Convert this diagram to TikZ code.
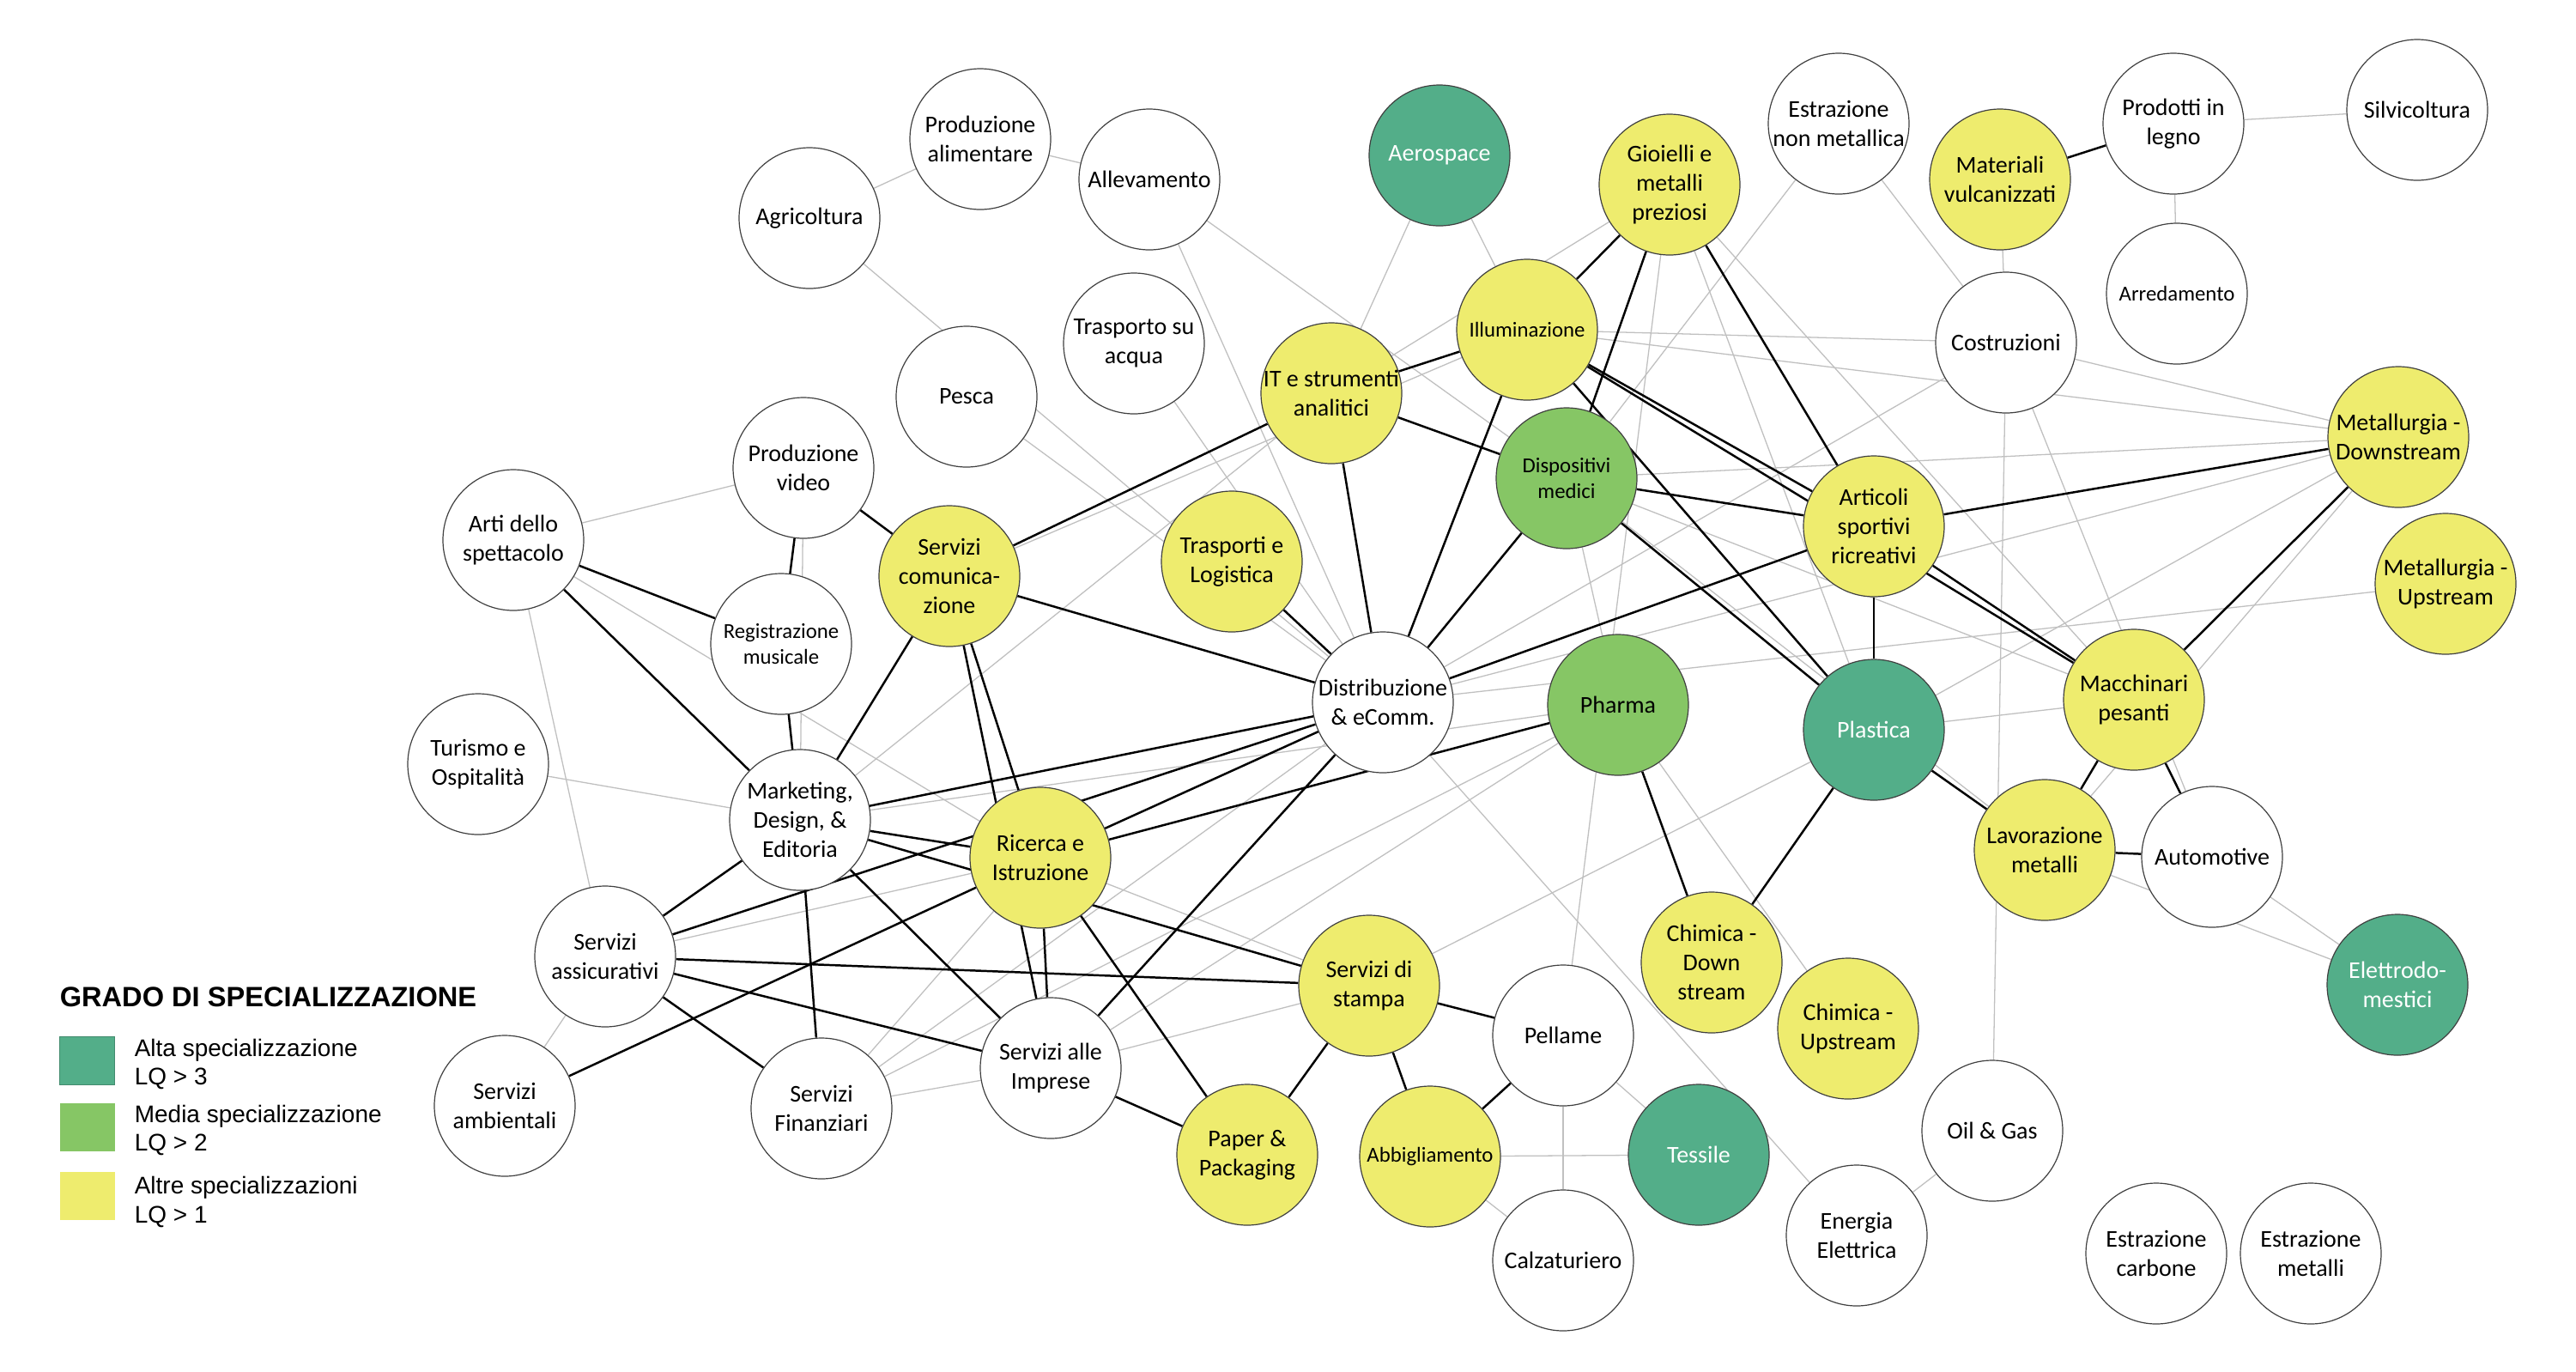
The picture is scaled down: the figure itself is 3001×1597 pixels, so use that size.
\documentclass[tikz,border=0pt]{standalone}
\usepackage{fontspec}
\setmainfont{Carlito}
\newfontfamily\legendfont{Liberation Sans}
\usetikzlibrary{backgrounds}
\definecolor{hiG}{RGB}{83,174,137}
\definecolor{midG}{RGB}{134,198,101}
\definecolor{loY}{RGB}{238,236,110}
\definecolor{weakE}{RGB}{192,192,192}
\tikzset{
  sector/.style={circle, draw=black!75, line width=0.3pt, fill=white, minimum size=41pt, inner sep=-12pt, align=center, font=\fontsize{7}{8.5}\selectfont},
  smalltxt/.style={font=\fontsize{6.2}{7.6}\selectfont},
  hi/.style={fill=hiG, text=white},
  mid/.style={fill=midG},
  lo/.style={fill=loY},
  strong/.style={line width=0.62pt, black},
  weak/.style={line width=0.32pt, weakE},
  legtext/.style={anchor=base west, inner sep=0pt, font=\legendfont\fontsize{7}{8.4}\selectfont},
  legbox/.style={anchor=north west, inner sep=0pt, minimum width=16pt, minimum height=14pt}
}
\begin{document}
\begin{tikzpicture}[x=0.25pt, y=-0.25pt]
\useasboundingbox (0,0) rectangle (3001,1597);
% ---------------- nodes ----------------
\node[sector] (agri) at (943,254) {Agricoltura};
\node[sector] (prodalim) at (1142,162) {Produzione\\alimentare};
\node[sector] (allev) at (1339,209) {Allevamento};
\node[sector,hi] (aero) at (1677,181) {Aerospace};
\node[sector,lo] (gioie) at (1945,215) {Gioielli e\\metalli\\preziosi};
\node[sector] (estrnm) at (2142,144) {Estrazione\\non metallica};
\node[sector,lo] (matvulc) at (2330,209) {Materiali\\vulcanizzati};
\node[sector] (legno) at (2532,144) {Prodotti in\\legno};
\node[sector] (silvi) at (2816,128) {Silvicoltura};
\node[sector,smalltxt] (arred) at (2536,342) {Arredamento};
\node[sector] (costr) at (2337,399) {Costruzioni};
\node[sector] (trasacq) at (1321,400) {Trasporto su\\acqua};
\node[sector] (pesca) at (1126,462) {Pesca};
\node[sector,lo] (it) at (1551,458) {IT e strumenti\\analitici};
\node[sector,lo,smalltxt] (illum) at (1779,384) {Illuminazione};
\node[sector,mid,smalltxt] (disp) at (1825,557) {Dispositivi\\medici};
\node[sector,lo] (artic) at (2183,613) {Articoli\\sportivi\\ricreativi};
\node[sector,lo] (metdown) at (2794,509) {Metallurgia -\\Downstream};
\node[sector,lo] (metup) at (2849,680) {Metallurgia -\\Upstream};
\node[sector] (prodvid) at (936,545) {Produzione\\video};
\node[sector] (arti) at (598,629) {Arti dello\\spettacolo};
\node[sector,smalltxt] (regmus) at (910,750) {Registrazione\\musicale};
\node[sector,lo] (servcom) at (1106,671) {Servizi\\comunica-\\zione};
\node[sector,lo] (trasplog) at (1435,654) {Trasporti e\\Logistica};
\node[sector] (distr) at (1611,818) {Distribuzione\\\& eComm.};
\node[sector,mid] (pharma) at (1885,821) {Pharma};
\node[sector,hi] (plast) at (2183,850) {Plastica};
\node[sector,lo] (macch) at (2486,815) {Macchinari\\pesanti};
\node[sector] (turismo) at (557,890) {Turismo e\\Ospitalità};
\node[sector] (mkt) at (932,955) {Marketing,\\Design, \&\\Editoria};
\node[sector,lo] (ricerca) at (1212,999) {Ricerca e\\Istruzione};
\node[sector,lo] (lavmet) at (2382,990) {Lavorazione\\metalli};
\node[sector] (auto) at (2577,998) {Automotive};
\node[sector] (assic) at (705,1114) {Servizi\\assicurativi};
\node[sector,lo] (stampa) at (1595,1148) {Servizi di\\stampa};
\node[sector,lo] (chimdown) at (1994,1121) {Chimica -\\Down\\stream};
\node[sector,hi] (elettro) at (2793,1147) {Elettrodo-\\mestici};
\node[sector,lo] (chimup) at (2153,1198) {Chimica -\\Upstream};
\node[sector] (pellame) at (1821,1206) {Pellame};
\node[sector] (servimp) at (1224,1244) {Servizi alle\\Imprese};
\node[sector] (ambient) at (588,1288) {Servizi\\ambientali};
\node[sector] (finanz) at (957,1291) {Servizi\\Finanziari};
\node[sector,lo] (paper) at (1453,1345) {Paper \&\\Packaging};
\node[sector,lo,smalltxt] (abbigl) at (1666,1347) {Abbigliamento};
\node[sector,hi] (tessile) at (1979,1345) {Tessile};
\node[sector] (oilgas) at (2321,1317) {Oil \& Gas};
\node[sector] (energia) at (2163,1439) {Energia\\Elettrica};
\node[sector] (calz) at (1821,1468) {Calzaturiero};
\node[sector] (estrcarb) at (2512,1460) {Estrazione\\carbone};
\node[sector] (estrmet) at (2692,1460) {Estrazione\\metalli};
% ---------------- connectors ----------------
\begin{pgfonlayer}{background}
\fill[white] (0,0) rectangle (3001,1597);
\foreach \a/\b in {agri/prodalim, prodalim/allev, agri/distr, pesca/distr, allev/distr, trasacq/distr, allev/disp, aero/it, aero/illum, arti/prodvid, arti/assic, arti/ricerca, prodvid/mkt, turismo/mkt, ambient/assic, finanz/servimp, finanz/ricerca, finanz/distr, finanz/pharma, assic/ricerca, servcom/illum, mkt/it, mkt/pharma, servimp/pharma, servimp/stampa, ricerca/stampa, plast/stampa, gioie/it, gioie/pellame, gioie/plast, gioie/macch, estrnm/disp, estrnm/costr, matvulc/costr, legno/silvi, legno/arred, illum/costr, illum/metdown, disp/metdown, disp/macch, disp/lavmet, disp/pharma, distr/metup, distr/metdown, distr/energia, costr/distr, costr/metdown, costr/oilgas, costr/auto, plast/macch, plast/metdown, metdown/lavmet, auto/elettro, lavmet/elettro, oilgas/energia, pellame/calz, abbigl/tessile, abbigl/calz, pellame/tessile, pharma/chimup}
  \draw[weak] (\a) -- (\b);
\foreach \a/\b in {arti/regmus, arti/mkt, prodvid/regmus, regmus/mkt, prodvid/servcom, servcom/mkt, servcom/ricerca, servcom/servimp, servcom/it, servcom/distr, trasplog/distr, it/distr, it/illum, it/disp, illum/distr, disp/distr, gioie/illum, gioie/disp, gioie/artic, illum/artic, illum/macch, artic/macch, illum/plast, disp/artic, disp/plast, artic/plast, artic/metdown, macch/metdown, plast/lavmet, macch/lavmet, macch/auto, lavmet/auto, plast/chimdown, pharma/chimdown, pharma/ricerca, distr/artic, distr/mkt, distr/assic, distr/ricerca, distr/servimp, mkt/ricerca, mkt/stampa, mkt/servimp, mkt/finanz, mkt/assic, ambient/ricerca, assic/stampa, assic/servimp, assic/finanz, ricerca/servimp, ricerca/paper, servimp/paper, stampa/paper, stampa/abbigl, stampa/pellame, abbigl/pellame, matvulc/legno}
  \draw[strong] (\a) -- (\b);
\end{pgfonlayer}
% ---------------- legend ----------------
\node[anchor=base west, inner sep=0pt, font=\legendfont\bfseries\fontsize{8.15}{9.8}\selectfont] (legtitle) at (69,1172) {GRADO DI SPECIALIZZAZIONE};
\node[legbox, fill=hiG, draw=hiG!80!black, line width=0.3pt] (sqhi) at (69,1207) {};
\node[legbox, fill=midG] (sqmid) at (69,1284) {};
\node[legbox, fill=loY] (sqlo) at (69,1364) {};
\node[legtext] (lhia) at (156,1230) {Alta specializzazione};
\node[legtext] (lhib) at (156,1263) {LQ > 3};
\node[legtext] (lmida) at (156,1307) {Media specializzazione};
\node[legtext] (lmidb) at (156,1340) {LQ > 2};
\node[legtext] (lloa) at (156,1390) {Altre specializzazioni};
\node[legtext] (llob) at (156,1424) {LQ > 1};
\end{tikzpicture}
\end{document}
